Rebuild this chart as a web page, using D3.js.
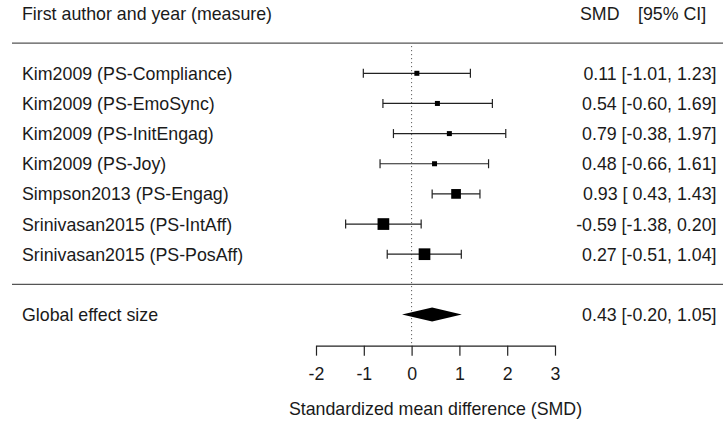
<!DOCTYPE html>
<html><head><meta charset="utf-8">
<script src="https://cdn.jsdelivr.net/npm/d3@7"></script>
<style>body{margin:0;background:#fff}svg{display:block}text{font-family:"Liberation Sans",Arial,sans-serif;fill:#1a1a1a}</style>
</head><body><svg id="c" width="723" height="423"></svg>
<script>
const studies = ["Kim2009 (PS-Compliance)","Kim2009 (PS-EmoSync)","Kim2009 (PS-InitEngag)","Kim2009 (PS-Joy)","Simpson2013 (PS-Engag)","Srinivasan2015 (PS-IntAff)","Srinivasan2015 (PS-PosAff)"];
const smd = [0.11,0.54,0.79,0.48,0.93,-0.59,0.27];
const ciLower = [-1.01,-0.60,-0.38,-0.66,0.43,-1.38,-0.51];
const ciUpper = [1.23,1.69,1.97,1.61,1.43,0.20,1.04];
const weights = [6.4,6.4,6.4,6.4,21,27.2,27.2];
const globalEffect = {label:"Global effect size", est:0.43, lo:-0.20, hi:1.05};
const axisTicks = [-2,-1,0,1,2,3];
const fmtL = v => (v<0?"-":" ")+Math.abs(v).toFixed(2);
const fmt = v => (v<0?"-":"")+Math.abs(v).toFixed(2);

const svg = d3.select("#c");
const x = d3.scaleLinear().domain([-2,3]).range([316,555]);
const y = d3.scaleLinear().domain([1,2]).range([73.3,103.45]);
const size = d3.scaleLinear().domain([d3.min(weights),d3.max(weights)]).range([5,11.7]);
const fs = 17.8;
const leftX = 22, rightX = 716.5;
const dy = 0.5;

// header
svg.append("text").attr("x",leftX).attr("y",y(-1)+dy).attr("dominant-baseline","central").attr("font-size",fs).text("First author and year (measure)");
svg.append("text").attr("x",580).attr("y",y(-1)+dy).attr("dominant-baseline","central").attr("font-size",fs).text("SMD");
svg.append("text").attr("x",638).attr("y",y(-1)+dy).attr("dominant-baseline","central").attr("font-size",fs).text("[95% CI]");

// separators
[0,8].forEach(r=>svg.append("line").attr("x1",12).attr("x2",723).attr("y1",y(r)).attr("y2",y(r)).attr("stroke","#555").attr("stroke-width",1.4));

// reference line
svg.append("line").attr("x1",x(0)).attr("x2",x(0)).attr("y1",y(0)+3).attr("y2",y(10)).attr("stroke","#444").attr("stroke-width",1).attr("stroke-dasharray","1,3");

// study rows
const rows = studies.map((s,i)=>({s,est:smd[i],lo:ciLower[i],hi:ciUpper[i],w:weights[i],r:i+1}));
const g = svg.selectAll("g.row").data(rows).join("g");
g.append("text").attr("x",leftX).attr("y",d=>y(d.r)+dy).attr("dominant-baseline","central").attr("font-size",fs).text(d=>d.s);
g.append("text").attr("x",rightX).attr("y",d=>y(d.r)+dy).attr("dominant-baseline","central").attr("text-anchor","end").attr("font-size",fs).attr("xml:space","preserve")
  .text(d=>`${fmt(d.est)} [${fmtL(d.lo)}, ${fmt(d.hi)}]`);
g.append("line").attr("x1",d=>x(d.lo)).attr("x2",d=>x(d.hi)).attr("y1",d=>y(d.r)).attr("y2",d=>y(d.r)).attr("stroke","#222").attr("stroke-width",1.2);
g.append("line").attr("x1",d=>x(d.lo)).attr("x2",d=>x(d.lo)).attr("y1",d=>y(d.r)-4.5).attr("y2",d=>y(d.r)+4.5).attr("stroke","#222").attr("stroke-width",1.2);
g.append("line").attr("x1",d=>x(d.hi)).attr("x2",d=>x(d.hi)).attr("y1",d=>y(d.r)-4.5).attr("y2",d=>y(d.r)+4.5).attr("stroke","#222").attr("stroke-width",1.2);
g.append("rect").attr("x",d=>x(d.est)-size(d.w)/2).attr("y",d=>y(d.r)-size(d.w)/2).attr("width",d=>size(d.w)).attr("height",d=>size(d.w)).attr("fill","#000");

// global
const gy = y(9);
svg.append("text").attr("x",leftX).attr("y",gy+dy).attr("dominant-baseline","central").attr("font-size",fs).text(globalEffect.label);
svg.append("text").attr("x",rightX).attr("y",gy+dy).attr("dominant-baseline","central").attr("text-anchor","end").attr("font-size",fs).attr("xml:space","preserve")
  .text(`${fmt(globalEffect.est)} [${fmtL(globalEffect.lo)}, ${fmt(globalEffect.hi)}]`);
svg.append("path").attr("d",`M${x(globalEffect.lo)},${gy}L${x(globalEffect.est)},${gy-7}L${x(globalEffect.hi)},${gy}L${x(globalEffect.est)},${gy+7}Z`).attr("fill","#000");

// axis
const ax = svg.append("g").attr("transform",`translate(0,${y(10)+1})`)
  .call(d3.axisBottom(x).tickValues(axisTicks).tickSize(10).tickSizeOuter(0).tickPadding(12).tickFormat(d=>String(d)));
ax.select(".domain").attr("stroke","#222").attr("stroke-width",1.2);
ax.selectAll(".tick line").attr("stroke","#222").attr("stroke-width",1.2);
ax.selectAll(".tick text").attr("font-size",fs).attr("font-family","Liberation Sans, Arial, sans-serif").attr("fill","#1a1a1a");
svg.append("text").attr("x",(x(-2)+x(3))/2).attr("y",409).attr("dominant-baseline","central").attr("text-anchor","middle").attr("font-size",fs).text("Standardized mean difference (SMD)");
</script></body></html>
